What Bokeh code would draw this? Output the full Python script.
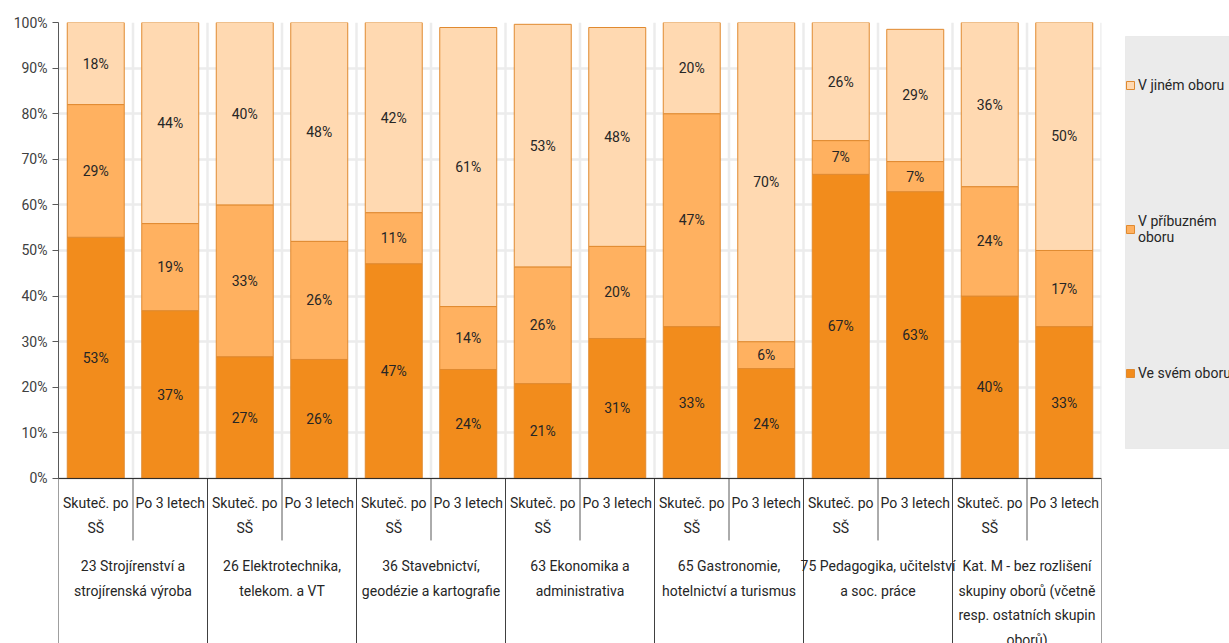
from bokeh.plotting import figure
from bokeh.layouts import row
from bokeh.models import (ColumnDataSource, FactorRange, Range1d, FixedTicker,
                          PrintfTickFormatter, Span, Legend, LegendItem, BoxAnnotation)
from bokeh.core.properties import value
from bokeh.embed import file_html
from bokeh.resources import INLINE

groups = ["23 Strojírenství a\nstrojírenská výroba",
          "26 Elektrotechnika,\ntelekom. a VT",
          "36 Stavebnictví,\ngeodézie a kartografie",
          "63 Ekonomika a\nadministrativa",
          "65 Gastronomie,\nhotelnictví a turismus",
          "75 Pedagogika, učitelství\na soc. práce",
          "Kat. M - bez rozlišení\nskupiny oborů (včetně\nresp. ostatních skupin\noborů)"]
subcats = ["Skuteč. po\nSŠ", "Po 3 letech"]
series_names = ["Ve svém oboru", "V příbuzném\noboru", "V jiném oboru"]

ve_svem = [52.9, 36.8, 26.7, 26.1, 47.1, 23.9, 20.8, 30.7, 33.3, 24.1, 66.7, 62.9, 40.0, 33.3]
v_pribuznem = [29.1, 19.1, 33.3, 25.9, 11.2, 13.8, 25.6, 20.2, 46.7, 5.9, 7.4, 6.6, 24.0, 16.7]
v_jinem = [18.0, 44.1, 40.0, 48.0, 41.7, 61.2, 53.2, 48.0, 20.0, 70.0, 25.9, 29.0, 36.0, 50.0]
y_ticks = [0, 10, 20, 30, 40, 50, 60, 70, 80, 90, 100]

colors = ["#F28C1C", "#FFB160", "#FFD9B1"]
edge = "#E08A30"
font = "Roboto"

factors = [(g, s) for g in groups for s in subcats]
n = len(factors)

source = ColumnDataSource(dict(x=factors, own=ve_svem, rel=v_pribuznem, oth=v_jinem))

p = figure(width=1103, height=643, output_backend="svg", toolbar_location=None,
           x_range=FactorRange(*factors, factor_padding=0, group_padding=0,
                               subgroup_padding=0, range_padding=0),
           y_range=Range1d(-36.2, 100),
           min_border_left=58, min_border_right=2, min_border_top=22,
           min_border_bottom=0)
p.outline_line_color = None
p.xaxis.visible = False
p.xgrid.visible = False

# y axis
p.yaxis.bounds = (0, 100)
p.yaxis.ticker = FixedTicker(ticks=y_ticks)
p.yaxis.formatter = PrintfTickFormatter(format="%d%%")
p.yaxis.major_label_text_font = font
p.yaxis.major_label_text_font_size = "14px"
p.yaxis.major_label_text_color = "#404040"
p.yaxis.axis_line_color = "#595959"
p.yaxis.major_tick_line_color = "#595959"
p.yaxis.major_tick_out = 6
p.yaxis.major_tick_in = 0
p.yaxis.minor_tick_line_color = None
p.ygrid.bounds = (0, 100)
p.ygrid.ticker = FixedTicker(ticks=y_ticks)
p.ygrid.grid_line_color = "#ECECEC"
p.ygrid.grid_line_width = 2.5

# vertical light gridlines between slots
bx = list(range(1, n + 1))
p.segment(x0=bx, y0=[0] * len(bx), x1=bx, y1=[100] * len(bx),
          line_color="#ECECEC", line_width=2.5)

# bars
rs = p.vbar_stack(["own", "rel", "oth"], x="x", width=0.765, source=source,
                  fill_color=colors, line_color=edge, line_width=1)

# data labels
lx, ly, lt = [], [], []
for i, f in enumerate(factors):
    base = 0
    for v in (ve_svem[i], v_pribuznem[i], v_jinem[i]):
        lx.append(f)
        ly.append(base + v / 2)
        lt.append(f"{round(v)}%")
        base += v
p.text(x=lx, y=ly, text=lt, text_align="center", text_baseline="middle",
       text_font=value(font), text_font_size="14px", text_color="#262626")

# baseline
p.add_layout(Span(location=0, dimension="width", line_color="#262626", line_width=1))

# category table lines
gx = list(range(0, n + 1, 2))
p.segment(x0=gx, y0=[0] * len(gx), x1=gx, y1=[-40] * len(gx),
          line_color="#404040", line_width=1)
sx = list(range(1, n, 2))
p.segment(x0=sx, y0=[0] * len(sx), x1=sx, y1=[-13.6] * len(sx),
          line_color="#595959", line_width=1)

# sub category labels
p.text(x=factors, y=[-3.65] * n, text=[f[1] for f in factors], text_align="center",
       text_baseline="top", text_font=value(font), text_font_size="14px",
       text_color="#262626", text_line_height=1.55)

# group labels: centred between the two sub-categories
gpos = [i * 2 + 1 for i in range(len(groups))]
p.text(x=gpos, y=[-17.4] * len(groups), text=groups, text_align="center",
       text_baseline="top", text_font=value(font), text_font_size="14px",
       text_color="#262626", text_line_height=1.55)

# legend panel, same borders as the chart so the row keeps both frames aligned
q = figure(width=126, height=643, output_backend="svg", toolbar_location=None,
           x_range=Range1d(0, 126), y_range=Range1d(0, 621),
           min_border_left=0, min_border_right=0, min_border_top=22,
           min_border_bottom=0)
q.axis.visible = False
q.grid.visible = False
q.outline_line_color = None
q.add_layout(BoxAnnotation(left=22, right=140, bottom=195, top=607,
                           fill_color="#EBEBEB", fill_alpha=1,
                           line_color="#D0D0D0", line_width=1))
proxies = [q.vbar(x=[-50], top=[-50], bottom=[-60], width=1, fill_color=c,
                  line_color=edge) for c in colors]

items = [LegendItem(label=series_names[2], renderers=[proxies[2]]),
         LegendItem(label=series_names[1], renderers=[proxies[1]]),
         LegendItem(label=series_names[0], renderers=[proxies[0]])]
legend = Legend(items=items, location="top_left", orientation="vertical")
legend.margin = 22
legend.background_fill_alpha = 0
legend.border_line_color = None
legend.label_text_font = font
legend.label_text_font_size = "14px"
legend.label_text_color = "#262626"
legend.label_height = 20
legend.glyph_width = 10
legend.glyph_height = 10
legend.label_standoff = 3
legend.padding = 7
legend.spacing = 118
legend.title = " "
legend.title_text_font_size = "14px"
legend.title_standoff = 15
q.add_layout(legend, "center")

open("out.html", "w").write(file_html(row(p, q), INLINE))
